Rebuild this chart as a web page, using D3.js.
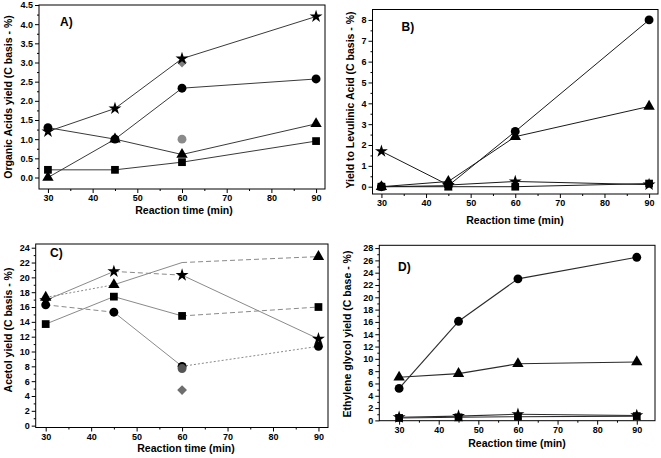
<!DOCTYPE html>
<html><head><meta charset="utf-8">
<script src="https://cdn.jsdelivr.net/npm/d3@7"></script>
<style>
body{margin:0;background:#fff;}
svg{display:block;font-family:"Liberation Sans",Arial,sans-serif;font-weight:bold;}
</style></head>
<body><svg id="c" width="661" height="458"></svg>
<script>
// ---------- data ----------
const times = [30, 45, 60, 90];
const xTicks = [30, 40, 50, 60, 70, 80, 90];
const xTitle = "Reaction time (min)";

// Panel A – organic acids yield
const aCircle   = [1.3, 1.0, 2.33, 2.57];
const aTriangle = [0.0, 1.0, 0.6, 1.4];
const aSquare   = [0.2, 0.2, 0.4, 0.95];
const aStar     = [1.2, 1.8, 3.1, 4.2];
const aGrayDiamond = [3.0];   // at 60 min
const aGrayCircle  = [1.0];   // at 60 min
const aYTicks = [0, 0.5, 1.0, 1.5, 2.0, 2.5, 3.0, 3.5, 4.0, 4.5];

// Panel B – levulinic acid
const bCircle   = [0.0, 0.05, 2.65, 8.0];
const bTriangle = [0.0, 0.25, 2.4, 3.85];
const bSquare   = [0.0, 0.0, 0.0, 0.15];
const bStar     = [1.7, 0.08, 0.25, 0.1];
const bYTicks = [0, 1, 2, 3, 4, 5, 6, 7, 8];

// Panel C – acetol
const cCircle   = [16.3, 15.3, 8.0, 10.7];
const cTriangle = [17.3, 19.0, 22.0, 22.8];
const cSquare   = [13.7, 17.4, 14.8, 16.0];
const cStar     = [16.9, 20.8, 20.3, 11.7];
const cTriangleMarkers = [true, true, false, true];
const cGrayCircle  = [7.7];
const cGrayDiamond = [4.8];
const cYTicks = [0, 2, 4, 6, 8, 10, 12, 14, 16, 18, 20, 22, 24];
// segment line styles in panel C
const cCircleSeg   = ["dashed", "solid", "dotted"];
const cTriangleSeg = ["dotted", "solid", "dashed"];
const cSquareSeg   = ["solid", "solid", "dashed"];
const cStarSeg     = ["solid", "dashed", "solid"];

// Panel D – ethylene glycol
const dCircle   = [5.2, 16.1, 23.0, 26.5];
const dTriangle = [7.0, 7.6, 9.2, 9.5];
const dSquare   = [0.4, 0.5, 0.6, 0.7];
const dStar     = [0.5, 0.7, 1.0, 0.8];
const dYTicks = [0, 2, 4, 6, 8, 10, 12, 14, 16, 18, 20, 22, 24, 26, 28];

// ---------- drawing ----------
const svg = d3.select("#c");
const dash = {solid: null, dashed: "5,3", dotted: "2,2"};
const sym = {
  circle: d3.symbol().type(d3.symbolCircle).size(62),
  triangle: d3.symbol().type(d3.symbolTriangle).size(56),
  square: d3.symbol().type(d3.symbolSquare).size(60),
  star: d3.symbol().type(d3.symbolStar).size(52),
  diamond: d3.symbol().type(d3.symbolSquare).size(48)
};
const rot = {diamond: 45};

function fmt(step){ return step < 1 ? d3.format(".1f") : d3.format("d"); }

function panel(cfg){
  const g = svg.append("g");
  const x = d3.scaleLinear().domain(cfg.xd).range([cfg.l, cfg.r]);
  const y = d3.scaleLinear().domain(cfg.yd).range([cfg.b, cfg.t]);
  const step = cfg.yTicks[1] - cfg.yTicks[0];
  const minorY = d3.range(cfg.yTicks[0] + step/2, cfg.yTicks[cfg.yTicks.length-1], step);
  const minorX = d3.range(35, 90, 10);

  g.append("g").attr("transform", `translate(0,${cfg.b})`)
    .call(d3.axisBottom(x).tickValues(xTicks).tickSize(4).tickPadding(2).tickFormat(d3.format("d")));
  g.append("g").attr("transform", `translate(0,${cfg.b})`)
    .call(d3.axisBottom(x).tickValues(minorX).tickSize(2).tickFormat(""));
  g.append("g").attr("transform", `translate(${cfg.l},0)`)
    .call(d3.axisLeft(y).tickValues(cfg.yTicks).tickSize(4).tickPadding(2).tickFormat(fmt(step)));
  g.append("g").attr("transform", `translate(${cfg.l},0)`)
    .call(d3.axisLeft(y).tickValues(minorY).tickSize(2).tickFormat(""));
  g.selectAll(".domain").remove();
  g.selectAll(".tick line").attr("stroke", "#000");
  g.selectAll(".tick text").attr("font-size", 9).attr("font-weight", "bold")
    .attr("font-family", '"Liberation Sans",Arial,sans-serif').attr("fill", "#000");

  g.append("rect").attr("x", cfg.l).attr("y", cfg.t)
    .attr("width", cfg.r - cfg.l).attr("height", cfg.b - cfg.t)
    .attr("fill", "none").attr("stroke", "#000").attr("stroke-width", 1);

  const drawPt = (shape, t, v, color) => {
    g.append("path").attr("d", sym[shape]())
      .attr("transform", `translate(${x(t)},${y(v)}) rotate(${rot[shape] || 0})`).attr("fill", color);
  };

  (cfg.grayBelow || []).forEach(p => drawPt(p.shape, p.t, p.v, p.color));

  cfg.series.forEach(s => {
    for (let i = 0; i < times.length - 1; i++) {
      const st = s.seg ? s.seg[i] : "solid";
      g.append("line")
        .attr("x1", x(times[i])).attr("y1", y(s.v[i]))
        .attr("x2", x(times[i+1])).attr("y2", y(s.v[i+1]))
        .attr("stroke", cfg.lineColor).attr("stroke-width", cfg.lw)
        .attr("stroke-dasharray", dash[st]);
    }
  });
  cfg.series.forEach(s => {
    times.forEach((t, i) => {
      if (s.show && !s.show[i]) return;
      drawPt(s.shape, t, s.v[i], "#000");
    });
  });
  (cfg.grayAbove || []).forEach(p => drawPt(p.shape, p.t, p.v, p.color));

  g.append("text").attr("x", cfg.xt[0]).attr("y", cfg.xt[1]).attr("dy", "0.35em")
    .attr("text-anchor", "middle").attr("font-size", 10.5).text(xTitle);
  g.append("text").attr("transform", `translate(${cfg.yt[0]},${cfg.yt[1]}) rotate(-90)`)
    .attr("dy", "0.35em").attr("text-anchor", "middle").attr("font-size", 10.5).text(cfg.yTitle);
  g.append("text").attr("x", cfg.lab[0]).attr("y", cfg.lab[1]).attr("dy", "0.35em")
    .attr("font-size", 12).text(cfg.label);
}

panel({
  l: 39, r: 325, t: 5, b: 189, xd: [28, 92], yd: [-0.3, 4.5], yTicks: aYTicks,
  lineColor: "#3a3a3a", lw: 1,
  series: [
    {shape: "square", v: aSquare}, {shape: "triangle", v: aTriangle},
    {shape: "circle", v: aCircle}, {shape: "star", v: aStar}
  ],
  grayBelow: [{shape: "diamond", t: 60, v: aGrayDiamond[0], color: "#7f7f7f"},
              {shape: "circle", t: 60, v: aGrayCircle[0], color: "#8a8a8a"}],
  yTitle: "Organic Acids yield (C basis - %)", yt: [8.5, 97], xt: [184, 210.5],
  label: "A)", lab: [60, 21.5]
});

panel({
  l: 372.5, r: 658, t: 9.5, b: 194, xd: [28, 92], yd: [-0.35, 8.5], yTicks: bYTicks,
  lineColor: "#1a1a1a", lw: 1,
  series: [
    {shape: "square", v: bSquare}, {shape: "star", v: bStar},
    {shape: "triangle", v: bTriangle}, {shape: "circle", v: bCircle}
  ],
  yTitle: "Yield to Levulinic Acid (C basis - %)", yt: [350, 100], xt: [515, 220],
  label: "B)", lab: [401.5, 26.5]
});

panel({
  l: 35.7, r: 328, t: 244, b: 427.5, xd: [27.8, 92.1], yd: [-0.25, 24.5], yTicks: cYTicks,
  lineColor: "#8a8a8a", lw: 1,
  series: [
    {shape: "square", v: cSquare, seg: cSquareSeg},
    {shape: "circle", v: cCircle, seg: cCircleSeg},
    {shape: "triangle", v: cTriangle, seg: cTriangleSeg, show: cTriangleMarkers},
    {shape: "star", v: cStar, seg: cStarSeg}
  ],
  grayAbove: [{shape: "circle", t: 60, v: cGrayCircle[0], color: "#555"},
              {shape: "diamond", t: 60, v: cGrayDiamond[0], color: "#6e6e6e"}],
  yTitle: "Acetol yield (C basis - %)", yt: [8.5, 330], xt: [186, 448.5],
  label: "C)", lab: [50, 253]
});

panel({
  l: 379.3, r: 655, t: 245.3, b: 420.7, xd: [25, 94.6], yd: [-0.05, 28.45], yTicks: dYTicks,
  lineColor: "#2a2a2a", lw: 1.1,
  series: [
    {shape: "square", v: dSquare}, {shape: "star", v: dStar},
    {shape: "triangle", v: dTriangle}, {shape: "circle", v: dCircle}
  ],
  yTitle: "Ethylene glycol yield (C base - %)", yt: [347, 334], xt: [517, 443],
  label: "D)", lab: [398, 267]
});
</script>
</body></html>
